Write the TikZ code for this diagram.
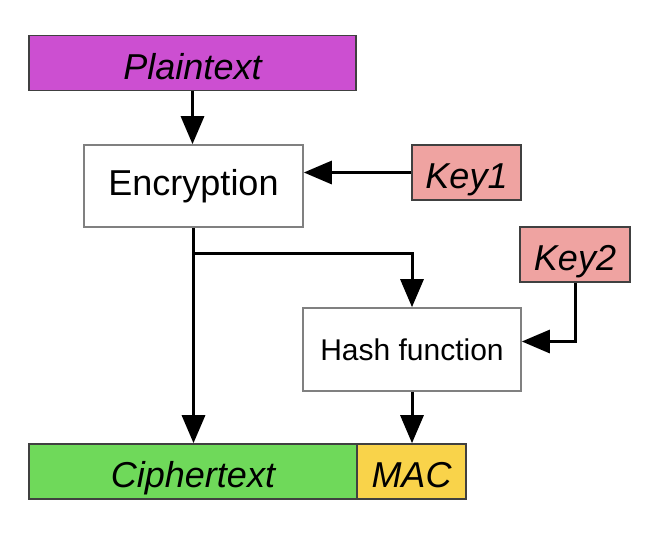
\documentclass[tikz,border=0pt]{standalone}
\usepackage{fontspec}
\setmainfont{Liberation Sans}
\usetikzlibrary{arrows.meta}
\definecolor{plainpurple}{HTML}{CC4FD1}
\definecolor{keypink}{HTML}{EFA3A1}
\definecolor{ciphergreen}{HTML}{6FD95A}
\definecolor{macyellow}{HTML}{F9D34A}
\tikzset{
        blk/.style={rectangle, inner sep=0pt, line width=0.8pt, anchor=center},
        data_blk/.style={blk, draw=black!75, text height=16pt, text depth=0pt,
                         font=\fontsize{18}{22}\selectfont\itshape},
        func_blk/.style={blk, draw=black!50, fill=white},
        flow/.style={line width=1.5pt, -{Triangle[width=11.5pt,length=14pt]}}
    }
\begin{document}
\begin{tikzpicture}[x=0.5pt, y=-0.5pt]
    \useasboundingbox (0,0) rectangle (658,546);
    % data blocks
    \node[data_blk, fill=plainpurple, minimum width=163.5pt, minimum height=27.5pt] (plain) at (192.5,63) {Plaintext};
    \node[data_blk, fill=keypink, minimum width=54.5pt, minimum height=27.5pt] (key1) at (466.5,172.5) {Key1};
    \node[data_blk, fill=keypink, minimum width=55pt, minimum height=27.5pt] (key2) at (575,254.5) {Key2};
    \node[data_blk, fill=ciphergreen, minimum width=164pt, minimum height=27.5pt] (cipher) at (193,471.5) {Ciphertext};
    \node[data_blk, fill=macyellow, minimum width=54.5pt, minimum height=27.5pt] (mac) at (411.5,471.5) {MAC};
    % functions
    \node[func_blk, minimum width=109.5pt, minimum height=41pt, font=\fontsize{18}{22}\selectfont] (enc) at (193.5,186) {Encryption};
    \node[func_blk, minimum width=109pt, minimum height=41.5pt, font=\fontsize{15}{18}\selectfont] (hash) at (412,349.5) {Hash function};
    % connectors
    \coordinate (split) at (193.5,253);
    \draw[flow] (plain.south) -- (plain.south |- enc.north);
    \draw[flow] (key1.west) -- (key1.west -| enc.east);
    \draw[flow] (enc.south) -- (enc.south |- cipher.north);
    \draw[flow] (split) -| (hash.north);
    \draw[flow] (key2.south) |- ([yshift=4pt]hash.east);
    \draw[flow] (hash.south) -- (hash.south |- mac.north);
\end{tikzpicture}
\end{document}
